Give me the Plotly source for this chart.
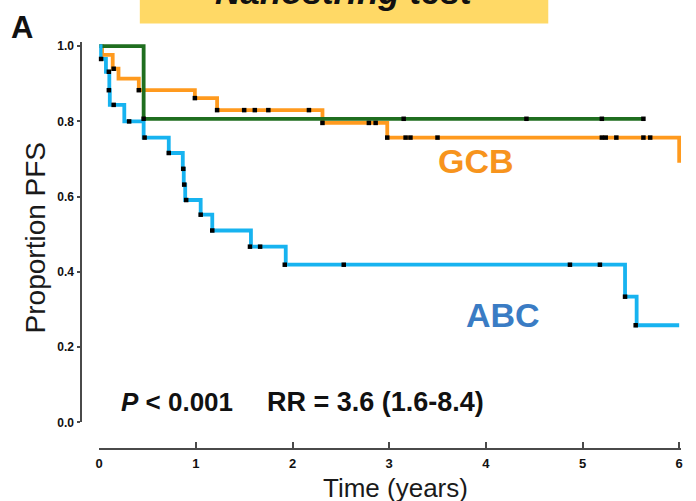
import plotly.graph_objects as go

# Kaplan-Meier step curves (time in years, proportion progression-free)
abc_t = [0, 0.015, 0.07, 0.105, 0.11, 0.26, 0.46, 0.72, 0.865, 0.875, 0.89, 1.05, 1.17, 1.57, 1.93, 5.44, 5.56, 6.0]
abc_s = [1.0, 0.966, 0.932, 0.883, 0.844, 0.80, 0.757, 0.716, 0.674, 0.632, 0.591, 0.552, 0.51, 0.467, 0.419, 0.334, 0.258, 0.258]
abc_cens_t = [0.02, 0.10, 0.10, 0.15, 0.31, 0.47, 0.72, 0.87, 0.88, 0.90, 1.05, 1.17, 1.56, 1.665, 1.92, 2.53, 4.87, 5.18, 5.44, 5.55]
abc_cens_s = [0.966, 0.932, 0.883, 0.844, 0.80, 0.757, 0.716, 0.674, 0.632, 0.591, 0.552, 0.51, 0.467, 0.467, 0.419, 0.419, 0.419, 0.419, 0.334, 0.258]

gcb_t = [0, 0.03, 0.14, 0.20, 0.41, 0.99, 1.22, 2.31, 2.98, 6.0]
gcb_s = [1.0, 0.977, 0.94, 0.914, 0.883, 0.862, 0.83, 0.796, 0.757, 0.69]
gcb_cens_t = [0.15, 0.41, 0.99, 1.22, 1.50, 1.61, 1.75, 2.17, 2.31, 2.79, 2.86, 2.98, 3.17, 3.22, 3.50, 5.20, 5.24, 5.35, 5.63, 5.70]
gcb_cens_s = [0.94, 0.883, 0.862, 0.83, 0.83, 0.83, 0.83, 0.83, 0.796, 0.796, 0.796, 0.757, 0.757, 0.757, 0.757, 0.757, 0.757, 0.757, 0.757, 0.757]

unc_t = [0, 0.46, 5.63]
unc_s = [1.0, 0.807, 0.807]
unc_cens_t = [0.46, 3.15, 4.42, 5.20, 5.63]
unc_cens_s = [0.807, 0.807, 0.807, 0.807, 0.807]

x_ticks = [0, 1, 2, 3, 4, 5, 6]
y_ticks = [0.0, 0.2, 0.4, 0.6, 0.8, 1.0]
y_tick_text = ["0.0", "0.2", "0.4", "0.6", "0.8", "1.0"]

ORANGE = "#FF9A1E"
GREEN = "#1F6E1F"
BLUE = "#17B3F0"

W, H = 696, 501

fig = go.Figure()

curves = [
    (gcb_t, gcb_s, ORANGE, "GCB"),
    (unc_t, unc_s, GREEN, "Unclassified"),
    (abc_t, abc_s, BLUE, "ABC"),
]
for t, s, col, name in curves:
    fig.add_trace(go.Scatter(
        x=t, y=s, mode="lines", line=dict(color=col, width=3.8, shape="hv"),
        name=name, showlegend=False, hoverinfo="skip"))

for ct, cs in [(gcb_cens_t, gcb_cens_s), (unc_cens_t, unc_cens_s), (abc_cens_t, abc_cens_s)]:
    fig.add_trace(go.Scatter(
        x=ct, y=cs, mode="markers",
        marker=dict(symbol="square", size=4.5, color="black", line=dict(width=0)),
        showlegend=False, hoverinfo="skip", cliponaxis=False))

axis_col = "#4a4a4a"
tick_font = dict(family="Liberation Sans Narrow, Arial Narrow, Liberation Sans, Arial", size=13,
                 color="#111", weight="bold")

fig.update_layout(
    width=W, height=H,
    margin=dict(l=0, r=0, t=0, b=0),
    paper_bgcolor="white", plot_bgcolor="white",
    xaxis=dict(
        domain=[96 / W, 683 / W], range=[0, 6.02],
        anchor="free", position=1 - 455 / H,
        showline=True, linecolor=axis_col, linewidth=2,
        ticks="inside", ticklen=6, tickwidth=2, tickcolor=axis_col,
        tickvals=x_ticks, tickfont=tick_font, ticklabelstandoff=3,
        showgrid=False, zeroline=False),
    yaxis=dict(
        domain=[1 - 428 / H, 1 - 40.4 / H], range=[0, 1.012],
        anchor="free", position=78 / W,
        showline=True, linecolor=axis_col, linewidth=2,
        ticks="outside", ticklen=3, tickwidth=2, tickcolor=axis_col,
        tickvals=y_ticks, ticktext=y_tick_text, tickfont=dict(tick_font, size=12),
        ticklabelstandoff=1,
        showgrid=False, zeroline=False),
)

# Header banner
fig.add_shape(type="rect", xref="paper", yref="paper",
              x0=137 / W, x1=549 / W, y0=1 - 22 / H, y1=1.05,
              fillcolor="#FFD966", line=dict(width=0), layer="below")

base = "Liberation Sans, Arial, Helvetica, sans-serif"
ann = [
    dict(text="<b><i>Nanostring test</i></b>", x=343 / W, y=1 - 11 / H, xref="paper", yref="paper",
         xanchor="center", yanchor="bottom", font=dict(family=base, size=35, color="#111")),
    dict(text="<b>A</b>", x=18 / W, y=1 - 26 / H, xref="paper", yref="paper",
         xanchor="center", yanchor="middle", font=dict(family=base, size=31, color="#111")),
    dict(text="Proportion PFS", x=32 / W, y=1 - 240 / H, xref="paper", yref="paper",
         textangle=-90, xanchor="center", yanchor="middle",
         font=dict(family=base, size=28, color="#1a1a1a")),
    dict(text="Time (years)", x=395 / W, y=1 - 479 / H, xref="paper", yref="paper",
         xanchor="center", yanchor="top", borderpad=0,
         font=dict(family=base, size=26, color="#1a1a1a")),
    dict(text="<b>GCB</b>", x=3.9, y=0.695, xref="x", yref="y",
         xanchor="center", yanchor="middle", font=dict(family=base, size=34, color="#F7941D")),
    dict(text="<b>ABC</b>", x=4.18, y=0.285, xref="x", yref="y",
         xanchor="center", yanchor="middle", font=dict(family=base, size=34, color="#3A7CC4")),
    dict(text="<b><i>P</i> &lt; 0.001</b>", x=116 / W, y=1 - 407 / H, xref="paper", yref="paper",
         xanchor="left", yanchor="middle", font=dict(family=base, size=26, color="#111")),
    dict(text="<b>RR = 3.6 (1.6-8.4)</b>", x=263 / W, y=1 - 407 / H, xref="paper", yref="paper",
         xanchor="left", yanchor="middle", font=dict(family=base, size=27, color="#111")),
]
for a in ann:
    fig.add_annotation(showarrow=False, **a)

fig.write_html("out.html")
